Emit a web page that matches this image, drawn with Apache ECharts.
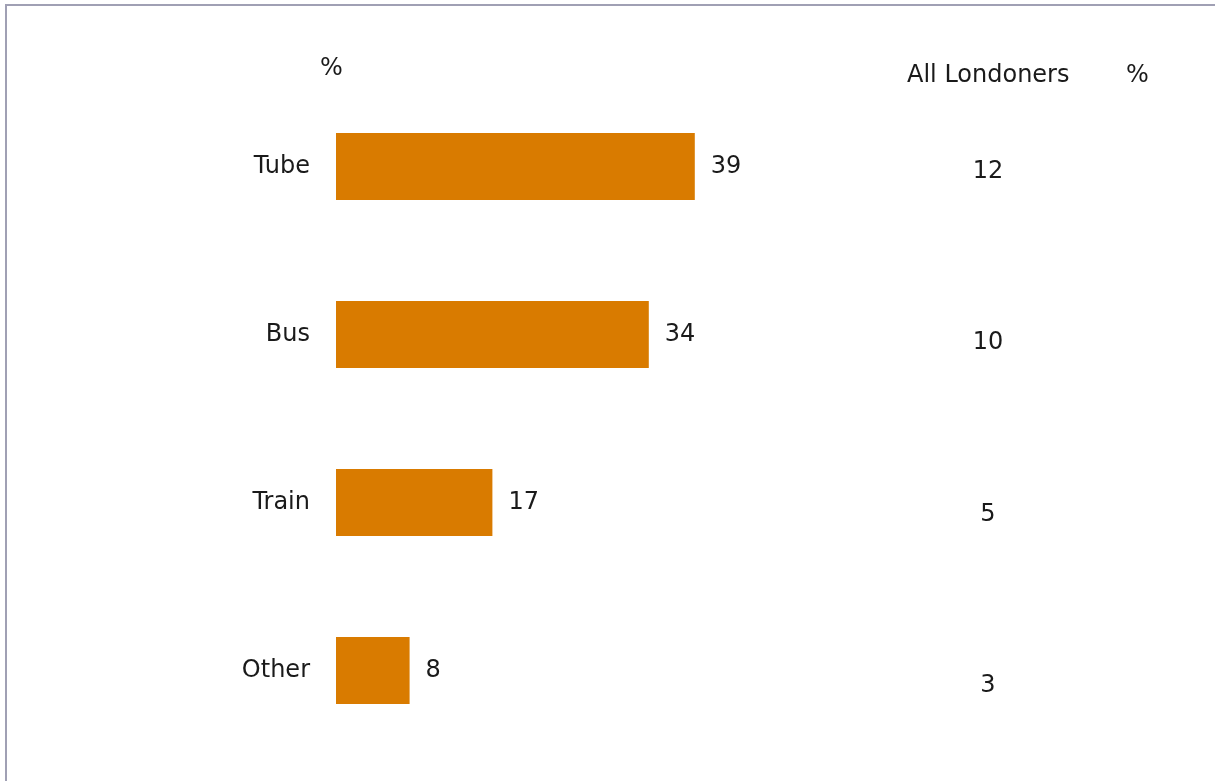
<!DOCTYPE html>
<html>
<head>
<meta charset="utf-8">
<script src="https://cdn.jsdelivr.net/npm/echarts@6/dist/echarts.min.js"></script>
<style>
  html, body { margin: 0; padding: 0; background: #ffffff; }
  #chart { width: 1215px; height: 781px; }
</style>
</head>
<body>
<div id="chart"></div>
<script>
// Main mode of transport
const categories = ['Tube', 'Bus', 'Train', 'Other'];
const groupValues = [39, 34, 17, 8];
const allLondoners = [12, 10, 5, 3];
const headerLeft = '%';
const headerRight = 'All Londoners';
const headerRightUnit = '%';

const FONT = 'DejaVu Sans';
const TEXT = '#1a1a1a';
const BAR = '#d97b00';

const chart = echarts.init(document.getElementById('chart'), null, { renderer: 'canvas' });

chart.setOption({
  backgroundColor: '#ffffff',
  animation: false,
  textStyle: { fontFamily: FONT },
  grid: [
    { left: 336, top: 82.5, width: 552, height: 672 },
    { left: 938, top: 86, width: 100, height: 686 }
  ],
  xAxis: [
    { gridIndex: 0, type: 'value', min: 0, max: 60, show: false },
    { gridIndex: 1, type: 'value', min: -1, max: 1, show: false }
  ],
  yAxis: [
    {
      gridIndex: 0, type: 'category', data: categories, inverse: true,
      axisLine: { show: false }, axisTick: { show: false }, splitLine: { show: false },
      axisLabel: { color: TEXT, fontSize: 24, fontFamily: FONT, margin: 26 }
    },
    {
      gridIndex: 1, type: 'category', data: categories, inverse: true, show: false
    }
  ],
  series: [
    {
      type: 'bar', xAxisIndex: 0, yAxisIndex: 0,
      data: groupValues,
      barWidth: '40%',
      itemStyle: { color: BAR },
      label: {
        show: true, position: 'right', distance: 16,
        color: TEXT, fontSize: 24, fontFamily: FONT
      }
    },
    {
      type: 'scatter', xAxisIndex: 1, yAxisIndex: 1,
      symbolSize: 0,
      itemStyle: { opacity: 1 },
      data: allLondoners.map((v, i) => ({ value: [0, categories[i]], text: v })),
      label: {
        show: true, position: 'inside',
        formatter: p => String(p.data.text),
        color: TEXT, opacity: 1, fontSize: 24, fontFamily: FONT
      }
    }
  ],
  graphic: [
    {
      type: 'polyline', silent: true,
      shape: { points: [[6, 781], [6, 5], [1215, 5]] },
      style: { stroke: '#a0a0b4', lineWidth: 2, fill: null }
    },
    {
      type: 'text', left: 320, top: 57,
      style: { text: headerLeft, fill: TEXT, font: '24px "' + FONT + '"' }
    },
    {
      type: 'text', left: 907, top: 64,
      style: { text: headerRight, fill: TEXT, font: '24px "' + FONT + '"' }
    },
    {
      type: 'text', left: 1126, top: 64,
      style: { text: headerRightUnit, fill: TEXT, font: '24px "' + FONT + '"' }
    }
  ]
});
</script>
</body>
</html>
